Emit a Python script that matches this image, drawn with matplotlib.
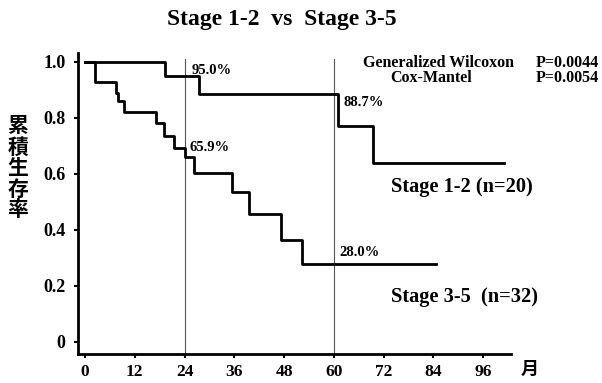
import matplotlib
matplotlib.use("Agg")
import matplotlib.pyplot as plt

# Kaplan-Meier step data (months, cumulative survival after each step)
stage12_t = [0, 19.3, 27.5, 61.0, 69.4, 101.0]
stage12_s = [1.0, 0.950, 0.887, 0.770, 0.640, 0.640]

stage35_t = [0, 2.4, 7.5, 8.0, 9.4, 17.1, 19.1, 21.4, 24.0, 26.3, 35.5, 39.5, 47.2, 52.4, 84.5]
stage35_s = [1.0, 0.930, 0.890, 0.860, 0.822, 0.781, 0.736, 0.692, 0.659, 0.605, 0.535, 0.457, 0.364, 0.280, 0.280]

# survival labels at the reference times
marks_t = [24, 60, 24, 60]
marks_s = [0.950, 0.887, 0.659, 0.280]
marks_txt = ["95.0%", "88.7%", "65.9%", "28.0%"]
marks_dx = [1.8, 2.2, 1.1, 1.4]
marks_dy = [0.021, -0.033, 0.037, 0.041]

x_ticks = [0, 12, 24, 36, 48, 60, 72, 84, 96]
y_ticks = [0, 0.2, 0.4, 0.6, 0.8, 1.0]
y_ticklabels = ["0", "0.2", "0.4", "0.6", "0.8", "1.0"]
ref_months = [24, 60]

serif = "Liberation Serif"
cjk = ["Noto Sans CJK JP", "DejaVu Sans"]

fig = plt.figure(figsize=(6.02, 3.83), dpi=100)
ax = fig.add_axes([78 / 602, 1 - 354 / 383, (511 - 78) / 602, (354 - 53) / 383])
ax.set_xlim(-1.7, 102.7)
ax.set_ylim(-0.043, 1.032)

for s in ["top", "right"]:
    ax.spines[s].set_visible(False)
for s in ["left", "bottom"]:
    ax.spines[s].set_linewidth(2.0)

for m in ref_months:
    ax.plot([m, m], [-0.043, 1.01], color="#555555", lw=0.8, zorder=1)

ax.step(stage12_t, stage12_s, where="post", color="black", lw=2.0, zorder=3)
ax.step(stage35_t, stage35_s, where="post", color="black", lw=2.0, zorder=3)

for t, s, txt, dx, dy in zip(marks_t, marks_s, marks_txt, marks_dx, marks_dy):
    ax.text(t + dx, s + dy, txt, fontsize=10.5, fontweight="bold", family=serif,
            ha="left", va="center")

ax.set_xticks(x_ticks)
ax.set_xticklabels([str(v) for v in x_ticks])
ax.set_yticks(y_ticks)
ax.set_yticklabels(y_ticklabels)
ax.tick_params(axis="both", direction="out", length=3, width=1.5)
ax.tick_params(axis="x", pad=4.5)
ax.tick_params(axis="y", pad=6)
for lab in ax.get_xticklabels():
    lab.set_fontfamily(serif)
    lab.set_fontweight("bold")
    lab.set_fontsize(12.5)
for lab in ax.get_yticklabels():
    lab.set_fontfamily(serif)
    lab.set_fontweight("bold")
    lab.set_fontsize(13)

fig.text(282 / 602, 1 - 20 / 383, "Stage 1-2  vs  Stage 3-5", ha="center", va="center",
         fontsize=17, fontweight="bold", family=serif)

fig.text(363 / 602, 1 - 63 / 383, "Generalized Wilcoxon", ha="left", va="center",
         fontsize=11.5, fontweight="bold", family=serif)
fig.text(599 / 602, 1 - 63 / 383, "P=0.0044", ha="right", va="center",
         fontsize=11.5, fontweight="bold", family=serif)
fig.text(431 / 602, 1 - 78 / 383, "Cox-Mantel", ha="center", va="center",
         fontsize=11.5, fontweight="bold", family=serif)
fig.text(599 / 602, 1 - 78 / 383, "P=0.0054", ha="right", va="center",
         fontsize=11.5, fontweight="bold", family=serif)

fig.text(391 / 602, 1 - 187 / 383, "Stage 1-2 (n=20)", ha="left", va="center",
         fontsize=14.7, fontweight="bold", family=serif)
fig.text(391 / 602, 1 - 297 / 383, "Stage 3-5  (n=32)", ha="left", va="center",
         fontsize=14.7, fontweight="bold", family=serif)

fig.text(18 / 602, 1 - 168 / 383, "\n".join("累積生存率"), ha="center", va="center",
         fontsize=15, fontweight="bold", family=cjk, linespacing=1.0)
fig.text(530 / 602, 1 - 369 / 383, "月", ha="center", va="center",
         fontsize=13, fontweight="bold", family=cjk)

fig.savefig("out.png", dpi=100)
